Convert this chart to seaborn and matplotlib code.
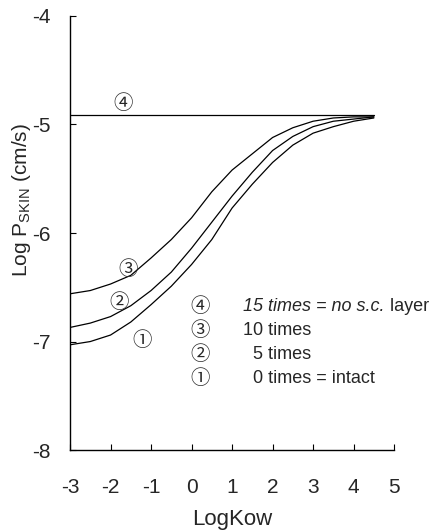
import matplotlib
matplotlib.use("Agg")
import matplotlib.pyplot as plt
import seaborn as sns
import pandas as pd

# LogKow grid shared by the curves
log_kow = [-3, -2.5, -2, -1.5, -1, -0.5, 0, 0.5, 1, 1.5, 2, 2.5, 3, 3.5, 4, 4.5]

# Log P_skin (cm/s) for each number of tape strippings
strip_0 = [-7.03, -7.00, -6.94, -6.82, -6.66, -6.49, -6.29, -6.06,
           -5.77, -5.55, -5.35, -5.19, -5.08, -5.02, -4.97, -4.94]
strip_5 = [-6.87, -6.83, -6.77, -6.67, -6.53, -6.36, -6.14, -5.90,
           -5.66, -5.44, -5.24, -5.11, -5.02, -4.97, -4.95, -4.93]
strip_10 = [-6.56, -6.53, -6.47, -6.39, -6.23, -6.06, -5.86, -5.62,
            -5.42, -5.27, -5.12, -5.03, -4.97, -4.94, -4.93, -4.93]
strip_15 = [-4.91] * len(log_kow)

curve_ids = ["①", "②", "③", "④"]
legend_text = ["0 times = intact", "5 times", "10 times", "15 times = no s.c. layer"]

frames = []
for cid, vals in zip(curve_ids, [strip_0, strip_5, strip_10, strip_15]):
    frames.append(pd.DataFrame({"LogKow": log_kow, "logP": vals, "curve": cid}))
df = pd.concat(frames, ignore_index=True)

sns.set_style("ticks")
plt.rcParams["font.family"] = ["Liberation Sans", "DejaVu Sans"]
plt.rcParams["axes.unicode_minus"] = False

fig = plt.figure(figsize=(4.35, 5.32), dpi=100)
ax = fig.add_axes([0.161, 0.154, 0.745, 0.816])

sns.lineplot(data=df, x="LogKow", y="logP", hue="curve", units="curve",
             estimator=None, palette=["black"] * 4, linewidth=0.9,
             legend=False, ax=ax)

ax.set_xlim(-3, 5)
ax.set_ylim(-8, -4)
ax.set_xticks(range(-3, 6))
ax.set_yticks([-8, -7, -6, -5, -4])
ax.tick_params(direction="in", length=4, width=0.8, labelsize=15, color="black")
ax.tick_params(axis="x", pad=20)
ax.tick_params(axis="y", pad=14)
for s in ["top", "right"]:
    ax.spines[s].set_visible(False)
for s in ["left", "bottom"]:
    ax.spines[s].set_linewidth(1.0)
    ax.spines[s].set_color("black")

ax.set_xlabel("LogKow", fontsize=16)
ax.xaxis.set_label_coords(0.5, -0.135)
ax.set_ylabel("Log P$_{\\mathregular{SKIN}}$ (cm/s)", fontsize=15)
ax.yaxis.set_label_coords(-0.115, 0.575)

circ = ["Noto Sans CJK JP", "DejaVu Sans"]
# labels placed beside each curve
curve_label_pos = {"④": (-1.69, -4.81), "③": (-1.57, -6.34),
                   "②": (-1.79, -6.64), "①": (-1.22, -6.99)}
for cid, (x, y) in curve_label_pos.items():
    ax.text(x, y, cid, family=circ, fontsize=14, ha="center", va="center")

# key listing the strip counts
key_rows = [-6.68, -6.90, -7.12, -7.34]
for cid, txt, y in zip(curve_ids[::-1], legend_text[::-1], key_rows):
    ax.text(0.21, y, cid, family=circ, fontsize=14, ha="center", va="center")
    if txt.startswith("15"):
        t = ax.text(1.27, y, "15 times = no s.c.", fontsize=13, style="italic",
                    ha="left", va="center")
        ax.annotate(" layer", xy=(1, 0.5), xycoords=t, fontsize=13,
                    ha="left", va="center")
    elif txt.startswith("5") or txt.startswith("0"):
        ax.text(1.27, y, "  " + txt, fontsize=13, ha="left", va="center")
    else:
        ax.text(1.27, y, txt, fontsize=13, ha="left", va="center")

fig.savefig("out.png", dpi=100)
